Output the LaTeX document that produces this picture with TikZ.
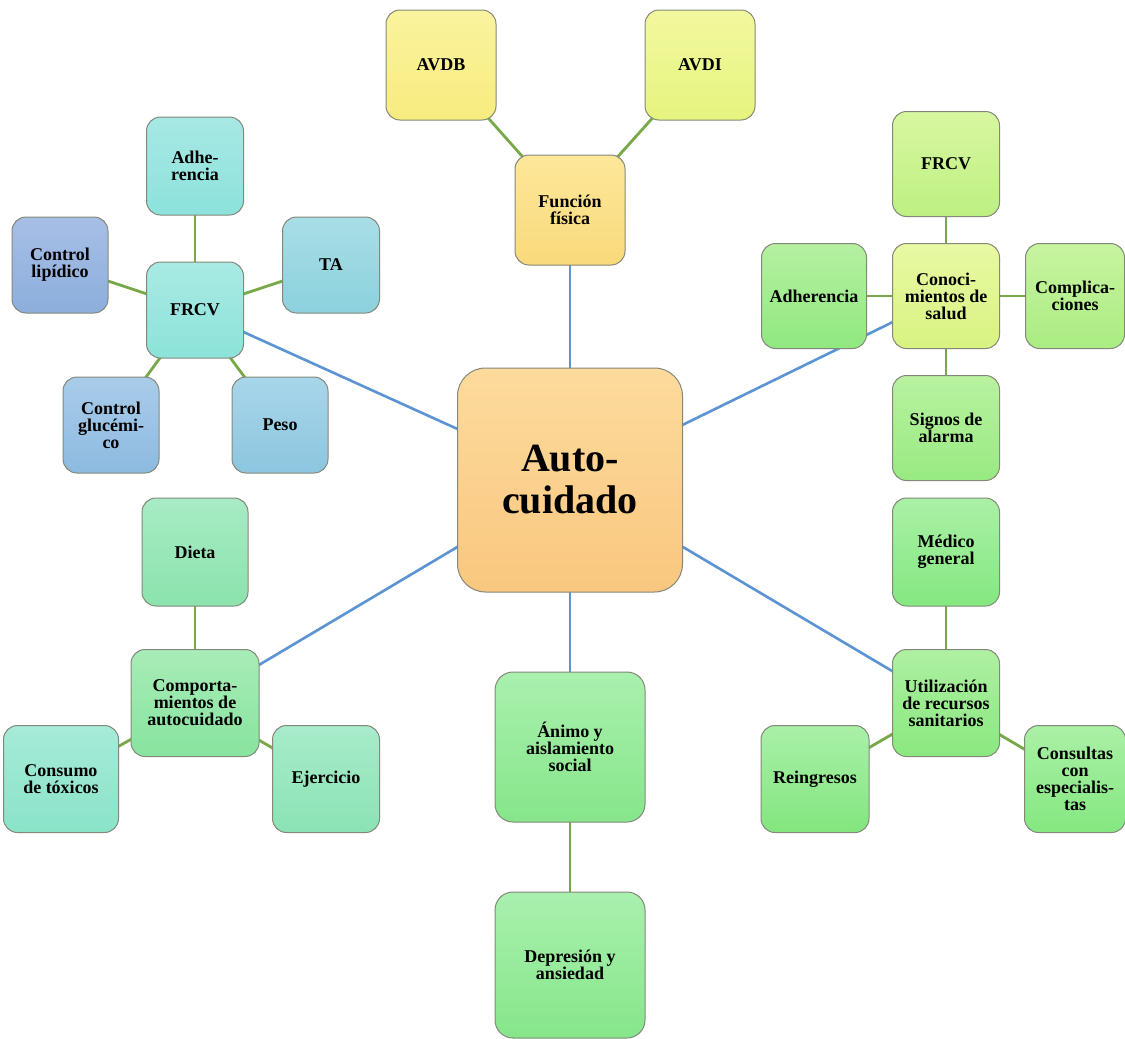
\documentclass[tikz,border=0pt]{standalone}
\usepackage{fontspec}
\setmainfont{Liberation Serif}
\usetikzlibrary{backgrounds}

\definecolor{bordc}{HTML}{84887A}
\definecolor{bluelink}{HTML}{5B93D3}
\definecolor{greenlink}{HTML}{78A848}

% fill gradients (top / bottom)
\definecolor{autoT}{HTML}{FDDB9C}\definecolor{autoB}{HTML}{F9C77F}
\definecolor{ffT}{HTML}{FDE79A}\definecolor{ffB}{HTML}{F9DA7B}
\definecolor{avdbT}{HTML}{FBF39E}\definecolor{avdbB}{HTML}{F7EC7F}
\definecolor{avdiT}{HTML}{F2F89E}\definecolor{avdiB}{HTML}{E6F47F}
\definecolor{frcvAT}{HTML}{A9EAE4}\definecolor{frcvAB}{HTML}{8CE3D9}
\definecolor{adhAT}{HTML}{A7E8E4}\definecolor{adhAB}{HTML}{8DE2DC}
\definecolor{clipT}{HTML}{A7BFE6}\definecolor{clipB}{HTML}{8CAEDC}
\definecolor{taT}{HTML}{A9DEE6}\definecolor{taB}{HTML}{8BD1DD}
\definecolor{cgluT}{HTML}{A9CCEA}\definecolor{cgluB}{HTML}{8DBAE0}
\definecolor{pesoT}{HTML}{A8D6EA}\definecolor{pesoB}{HTML}{8CC6DF}
\definecolor{conT}{HTML}{E8F9A3}\definecolor{conB}{HTML}{D8F382}
\definecolor{frcvBT}{HTML}{D8F7A0}\definecolor{frcvBB}{HTML}{BDF082}
\definecolor{adhBT}{HTML}{B5F0A0}\definecolor{adhBB}{HTML}{90E880}
\definecolor{compT}{HTML}{C8F4A0}\definecolor{compB}{HTML}{AAEC82}
\definecolor{sigT}{HTML}{B9F2A0}\definecolor{sigB}{HTML}{98EA82}
\definecolor{cmpT}{HTML}{A8ECB8}\definecolor{cmpB}{HTML}{87E49E}
\definecolor{dietaT}{HTML}{A7EBC4}\definecolor{dietaB}{HTML}{8BE3AC}
\definecolor{consT}{HTML}{A6EBD8}\definecolor{consB}{HTML}{8AE3C8}
\definecolor{ejerT}{HTML}{A8EBCB}\definecolor{ejerB}{HTML}{8AE3B4}
\definecolor{utilT}{HTML}{AEF0A2}\definecolor{utilB}{HTML}{8AE87E}
\definecolor{medT}{HTML}{AAF0A6}\definecolor{medB}{HTML}{84E880}
\definecolor{reinT}{HTML}{A9F0A8}\definecolor{reinB}{HTML}{82E67E}
\definecolor{animoT}{HTML}{A9F0AE}\definecolor{animoB}{HTML}{86E68A}

\tikzset{
  box/.style={draw=bordc, line width=1pt, rounded corners=14pt, align=center,
    inner sep=0pt, font=\fontsize{18}{17}\selectfont\bfseries},
  sz/.style 2 args={minimum width=#1, minimum height=#2},
  grad/.style={top color=#1T, bottom color=#1B},
  main/.style={draw=bluelink, line width=2.6pt},
  sub/.style={draw=greenlink, line width=2.8pt},
}

\begin{document}
\begin{tikzpicture}[x=1pt, y=-1pt]
\useasboundingbox (0,0) rectangle (1125,1039);

% central node
\node[box, rounded corners=28pt, sz={225pt}{224pt}, grad=auto,
  font=\fontsize{40}{42}\selectfont\bfseries] (auto) at (570,480) {Auto-\\cuidado};

% physical function
\node[box, sz={110pt}{110pt}, grad=ff] (ff) at (570,210) {Función\\física};
\node[box, sz={110pt}{110pt}, grad=avdb] (avdb) at (441,65) {AVDB};
\node[box, sz={110pt}{110pt}, grad=avdi] (avdi) at (700,65) {AVDI};

% cardiovascular risk factors
\node[box, sz={97pt}{96pt}, grad=frcvA] (frcvA) at (195,310) {FRCV};
\node[box, sz={97pt}{98pt}, grad=adhA] (adhA) at (195,166) {Adhe-\\rencia};
\node[box, sz={96pt}{96pt}, grad=clip] (clip) at (60,265) {Control\\lipídico};
\node[box, sz={97pt}{96pt}, grad=ta] (ta) at (331,265) {TA};
\node[box, sz={96pt}{96pt}, grad=cglu] (cglu) at (111,425) {Control\\glucémi-\\co};
\node[box, sz={96pt}{96pt}, grad=peso] (peso) at (280,425) {Peso};

% health knowledge
\node[box, sz={107pt}{105pt}, grad=con] (con) at (946,296) {Conoci-\\mientos de\\salud};
\node[box, sz={107pt}{105pt}, grad=frcvB] (frcvB) at (946,164) {FRCV};
\node[box, sz={105pt}{105pt}, grad=adhB] (adhB) at (814,296) {Adherencia};
\node[box, sz={99pt}{105pt}, grad=comp] (comp) at (1075,296) {Complica-\\ciones};
\node[box, sz={107pt}{105pt}, grad=sig] (sig) at (946,428) {Signos de\\alarma};

% self-care behaviours
\node[box, sz={128pt}{107pt}, grad=cmp] (cmp) at (195,703) {Comporta-\\mientos de\\autocuidado};
\node[box, sz={106pt}{108pt}, grad=dieta] (dieta) at (195,552) {Dieta};
\node[box, sz={115pt}{107pt}, grad=cons] (cons) at (61,779) {Consumo\\de tóxicos};
\node[box, sz={107pt}{107pt}, grad=ejer] (ejer) at (326,779) {Ejercicio};

% health resources
\node[box, sz={107pt}{107pt}, grad=util] (util) at (946,703) {Utilización\\de recursos\\sanitarios};
\node[box, sz={107pt}{108pt}, grad=med] (med) at (946,552) {Médico\\general};
\node[box, sz={108pt}{107pt}, grad=rein] (rein) at (815,779) {Reingresos};
\node[box, sz={101pt}{107pt}, grad=med] (consu) at (1075,779) {Consultas\\con\\especialis-\\tas};

% mood
\node[box, rounded corners=18pt, sz={150pt}{150pt}, grad=animo] (animo) at (570,747) {Ánimo y\\aislamiento\\social};
\node[box, rounded corners=18pt, sz={150pt}{146pt}, grad=animo] (dep) at (570,965) {Depresión y\\ansiedad};

% connectors, drawn beneath the boxes
\begin{scope}[on background layer]
  \fill[white] (0,0) rectangle (1125,1039);

  \draw[main] (auto.center) -- (ff.center);
  \draw[main] (auto.center) -- (frcvA.center);
  \draw[main] (auto.center) -- (con.center);
  \draw[main] (auto.center) -- (cmp.center);
  \draw[main] (auto.center) -- (util.center);
  \draw[main] (auto.center) -- (animo.center);

  \draw[sub] (ff.center) -- (avdb.center);
  \draw[sub] (ff.center) -- (avdi.center);

  \draw[sub] (frcvA.center) -- (adhA.center);
  \draw[sub] (frcvA.center) -- (clip.center);
  \draw[sub] (frcvA.center) -- (ta.center);
  \draw[sub] (frcvA.center) -- (cglu.center);
  \draw[sub] (frcvA.center) -- (peso.center);

  \draw[sub] (con.center) -- (frcvB.center);
  \draw[sub] (con.center) -- (adhB.center);
  \draw[sub] (con.center) -- (comp.center);
  \draw[sub] (con.center) -- (sig.center);

  \draw[sub] (cmp.center) -- (dieta.center);
  \draw[sub] (cmp.center) -- (cons.center);
  \draw[sub] (cmp.center) -- (ejer.center);

  \draw[sub] (util.center) -- (med.center);
  \draw[sub] (util.center) -- (rein.center);
  \draw[sub] (util.center) -- (consu.center);

  \draw[sub] (animo.center) -- (dep.center);
\end{scope}
\end{tikzpicture}
\end{document}
